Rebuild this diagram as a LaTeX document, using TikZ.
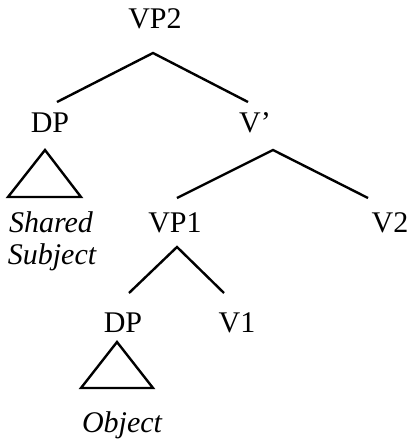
\documentclass[tikz,border=0pt]{standalone}
\usepackage{fontspec}
\setmainfont{Liberation Serif}
\begin{document}
\begin{tikzpicture}[x=1pt,y=-1pt,
  every node/.style={font=\fontsize{30}{32}\selectfont, inner sep=0pt, anchor=base},
  branch/.style={line width=2.4pt, line join=miter}]
  \useasboundingbox (0,0) rectangle (410,440);
  % labels
  \node (vp2) at (155,28) {VP2};
  \node (dpsubj) at (50,132) {DP};
  \node (vbar) at (255,132) {V'};
  \node (shared) at (51,232) {\itshape Shared};
  \node (subject) at (52,264) {\itshape Subject};
  \node (vp1) at (175,232) {VP1};
  \node (v2) at (390,232) {V2};
  \node (dpobj) at (123,332) {DP};
  \node (v1) at (237,332) {V1};
  \node (object) at (122,432) {\itshape Object};
  % branch points
  \coordinate (vp2-top) at (153,53);
  \coordinate (vp2-l) at (57,102);
  \coordinate (vp2-r) at (248,102);
  \coordinate (vbar-top) at (273,150);
  \coordinate (vbar-l) at (177,198);
  \coordinate (vbar-r) at (368,198);
  \coordinate (vp1-top) at (177,247);
  \coordinate (vp1-l) at (129,293);
  \coordinate (vp1-r) at (224,293);
  \draw[branch] (vp2-l) -- (vp2-top) -- (vp2-r);
  \draw[branch] (vbar-l) -- (vbar-top) -- (vbar-r);
  \draw[branch] (vp1-l) -- (vp1-top) -- (vp1-r);
  % triangles
  \coordinate (tri1-top) at (45,150);
  \coordinate (tri1-l) at (8,197);
  \coordinate (tri1-r) at (81,197);
  \coordinate (tri2-top) at (117,342);
  \coordinate (tri2-l) at (81,388);
  \coordinate (tri2-r) at (153,388);
  \draw[branch] (tri1-top) -- (tri1-l) -- (tri1-r) -- cycle;
  \draw[branch] (tri2-top) -- (tri2-l) -- (tri2-r) -- cycle;
\end{tikzpicture}
\end{document}
